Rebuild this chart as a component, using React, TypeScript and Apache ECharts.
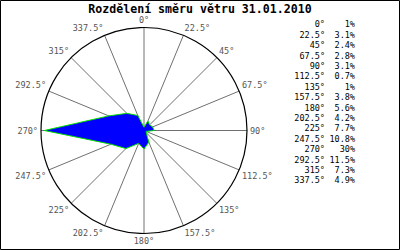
import React, { useEffect, useRef } from "react";
import * as echarts from "echarts";

const title = "Rozdělení směru větru 31.01.2010";
const directions = [0, 22.5, 45, 67.5, 90, 112.5, 135, 157.5, 180, 202.5, 225, 247.5, 270, 292.5, 315, 337.5];
const percents = [1, 3.1, 2.4, 2.8, 3.1, 0.7, 1, 3.8, 5.6, 4.2, 7.7, 10.8, 30, 11.5, 7.3, 4.9];

const MONO = "'DejaVu Sans Mono', 'Liberation Mono', monospace";

export default function App() {
  const ref = useRef<HTMLDivElement>(null);
  useEffect(() => {
    document.body.style.margin = "0";
    if (!ref.current) return;
    const chart = echarts.init(ref.current, undefined, { renderer: "svg" });
    const data = directions.map((d, i) => [percents[i], d]);
    data.push([percents[0], 360]);
    const degText = directions.map((d) => d + "°").join("\n");
    const pctText = percents.map((p) => p + "%").join("\n");
    chart.setOption({
      animation: false,
      backgroundColor: "#fff",
      title: {
        text: title,
        left: "center",
        top: 3,
        padding: 0,
        textStyle: { fontFamily: MONO, fontSize: 11.6, lineHeight: 12, fontWeight: "bold", color: "#000" },
      },
      polar: { center: [144, 130.5], radius: 103 },
      angleAxis: {
        type: "value",
        min: 0,
        max: 360,
        interval: 22.5,
        startAngle: 90,
        clockwise: true,
        axisLine: { show: true, lineStyle: { color: "#000", width: 1.2 } },
        axisTick: { show: false },
        splitLine: { show: true, lineStyle: { color: "#707070", width: 1 } },
        axisLabel: {
          margin: 3,
          fontFamily: MONO,
          fontSize: 8.5,
          lineHeight: 9,
          color: "#555",
          formatter: (v: number) => v + "°",
        },
      },
      radiusAxis: {
        type: "value",
        min: 0,
        max: 31,
        axisLine: { show: false },
        axisTick: { show: false },
        axisLabel: { show: false },
        splitLine: { show: false },
      },
      series: [
        {
          type: "line",
          coordinateSystem: "polar",
          data,
          symbol: "none",
          lineStyle: { color: "#00e000", width: 1 },
          areaStyle: { color: "#0000ff", opacity: 1 },
          z: 3,
        },
      ],
      graphic: [
        {
          type: "rect",
          shape: { x: 0.5, y: 0.5, width: 399, height: 249 },
          style: { fill: "none", stroke: "#000", lineWidth: 1 },
          silent: true,
        },
        {
          type: "text",
          x: 325,
          y: 19.3,
          style: {
            text: degText,
            align: "right",
            verticalAlign: "top",
            fontFamily: MONO,
            fontSize: 8.5,
            lineHeight: 10.4,
            fill: "#000",
          },
        },
        {
          type: "text",
          x: 355,
          y: 19.3,
          style: {
            text: pctText,
            align: "right",
            verticalAlign: "top",
            fontFamily: MONO,
            fontSize: 8.5,
            lineHeight: 10.4,
            fill: "#000",
          },
        },
      ],
    });
    return () => chart.dispose();
  }, []);
  return <div ref={ref} style={{ width: 400, height: 250 }} />;
}
